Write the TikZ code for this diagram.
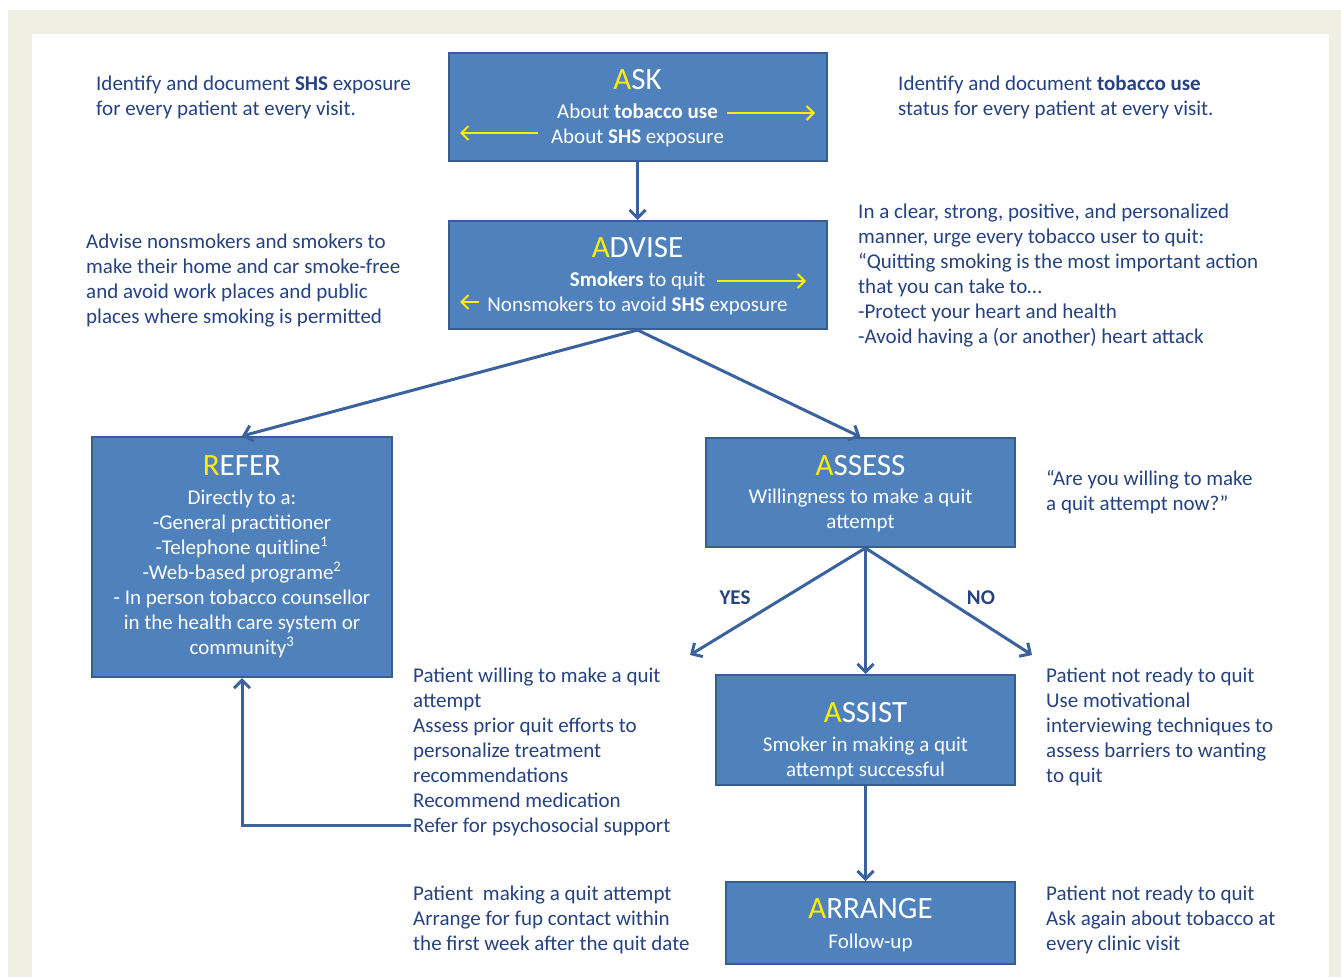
\documentclass[tikz,border=0pt]{standalone}
\usepackage{fontspec}
\setmainfont{Carlito}
\usetikzlibrary{arrows.meta,calc}
\definecolor{framebg}{RGB}{239,239,228}
\definecolor{boxfill}{RGB}{79,129,189}
\definecolor{boxline}{RGB}{56,93,145}
\definecolor{connc}{RGB}{58,98,158}
\definecolor{txt}{RGB}{38,66,128}
\definecolor{yel}{RGB}{255,238,0}
\newcommand{\bodyfont}{\fontsize{21}{25}\selectfont}
\newcommand{\titlefont}{\fontsize{31}{31}\selectfont}
\newcommand{\ya}[1]{\textcolor{yel}{#1}}
\tikzset{
  box/.style={draw=boxline, line width=2pt, fill=boxfill, inner sep=0pt},
  side/.style={font=\bodyfont, text=txt, align=left, inner sep=0pt, anchor=north west, yshift=13.5pt, execute at begin node=\strut},
  boxtxt/.style={font=\bodyfont, text=white, align=center, inner sep=0pt, anchor=north, yshift=13.5pt, execute at begin node=\strut},
  ttl/.style={font=\titlefont, text=white, inner sep=0pt, anchor=base},
  conn/.style={draw=connc, line width=3pt, -{Straight Barb[length=8pt,width=16pt]}},
  yarr/.style={draw=yel, line width=2pt, -{Straight Barb[length=7pt,width=14pt]}},
  lbl/.style={font=\bodyfont\bfseries, text=txt, inner sep=0pt, anchor=base},
}
\begin{document}
\begin{tikzpicture}[x=1pt,y=-1pt]
\useasboundingbox (0,0) rectangle (1341,977);
\fill[white] (0,0) rectangle (1341,977);
\fill[framebg] (8,10) rectangle (1341,977);
\fill[white] (32,34) rectangle (1329,977);

% boxes
\node[box, minimum width=378pt, minimum height=108pt] (ask) at (637.5,107) {};
\node[box, minimum width=378pt, minimum height=108pt] (advise) at (637.5,275) {};
\node[box, minimum width=300pt, minimum height=240pt] (refer) at (242,557) {};
\node[box, minimum width=309pt, minimum height=109pt] (assess) at (860.5,492.5) {};
\node[box, minimum width=299pt, minimum height=110pt] (assist) at (865.5,730) {};
\node[box, minimum width=289pt, minimum height=82pt] (arrange) at (870.5,923) {};

% box texts
\node[ttl] (askt) at (637.5,89) {\ya{A}SK};
\node[boxtxt] (askb) at (637.5,117) {About \textbf{tobacco use}\\About \textbf{SHS} exposure};
\node[ttl] (advt) at (637.5,257) {\ya{A}DVISE};
\node[boxtxt] (advb) at (637.5,285) {\textbf{Smokers} to quit\\Nonsmokers to avoid \textbf{SHS} exposure};
\node[ttl] (reft) at (242,475) {\ya{R}EFER};
\node[boxtxt] (refb) at (242,503) {Directly to a:\\-General practitioner\\-Telephone quitline\textsuperscript{1}\\-Web-based programe\textsuperscript{2}\\- In person tobacco counsellor\\in the health care system or\\community\textsuperscript{3}};
\node[ttl] (asst) at (860.5,475) {\ya{A}SSESS};
\node[boxtxt] (assb) at (860.5,502) {Willingness to make a quit\\attempt};
\node[ttl] (asit) at (865.5,722) {\ya{A}SSIST};
\node[boxtxt] (asib) at (865.5,750) {Smoker in making a quit\\attempt successful};
\node[ttl] (arrt) at (870.5,918) {\ya{A}RRANGE};
\node[boxtxt] (arrb) at (870.5,944) {Follow-up};

% yellow arrows
\draw[yarr] (727,113) -- (815,113);
\draw[yarr] (538,133) -- (460,133);
\draw[yarr] (717,281) -- (806,281);
\draw[yarr] (479,302) -- (460,302);

% side texts
\node[side] (s1) at (96,89) {Identify and document \textbf{SHS} exposure\\for every patient at every visit.};
\node[side] (s2) at (898,89) {Identify and document \textbf{tobacco use}\\status for every patient at every visit.};
\node[side] (s3) at (86,247) {Advise nonsmokers and smokers to\\make their home and car smoke-free\\and avoid work places and public\\places where smoking is permitted};
\node[side] (s4) at (858,217) {In a clear, strong, positive, and personalized\\manner, urge every tobacco user to quit:\\“Quitting smoking is the most important action\\that you can take to…\\-Protect your heart and health\\-Avoid having a (or another) heart attack};
\node[side] (s5) at (1046,484) {“Are you willing to make\\a quit attempt now?”};
\node[side] (s6) at (413,681) {Patient willing to make a quit\\attempt\\Assess prior quit efforts to\\personalize treatment\\recommendations\\Recommend medication\\Refer for psychosocial support};
\node[side] (s7) at (1046,681) {Patient not ready to quit\\Use motivational\\interviewing techniques to\\assess barriers to wanting\\to quit};
\node[side] (s8) at (413,899) {Patient\ \ making a quit attempt\\Arrange for fup contact within\\the first week after the quit date};
\node[side] (s9) at (1046,899) {Patient not ready to quit\\Ask again about tobacco at\\every clinic visit};

\node[lbl] (yes) at (735,604) {YES};
\node[lbl] (no) at (981,604) {NO};

% connectors
\draw[conn] (ask.south) -- (advise.north);
\draw[conn] (advise.south) -- (refer.north);
\draw[conn] (advise.south) -- (assess.north);
\coordinate (asp) at (assist.north |- assess.south);
\coordinate (yesend) at (690,655);
\coordinate (noend) at (1032,655);
\draw[conn] (asp) -- (assist.north);
\draw[conn] (asp) -- (yesend);
\draw[conn] (asp) -- (noend);
\draw[conn] (assist.south) -- (assist.south |- arrange.north);
\coordinate (fb) at (411,825);
\draw[conn] (fb) -| (refer.south);
\end{tikzpicture}
\end{document}
